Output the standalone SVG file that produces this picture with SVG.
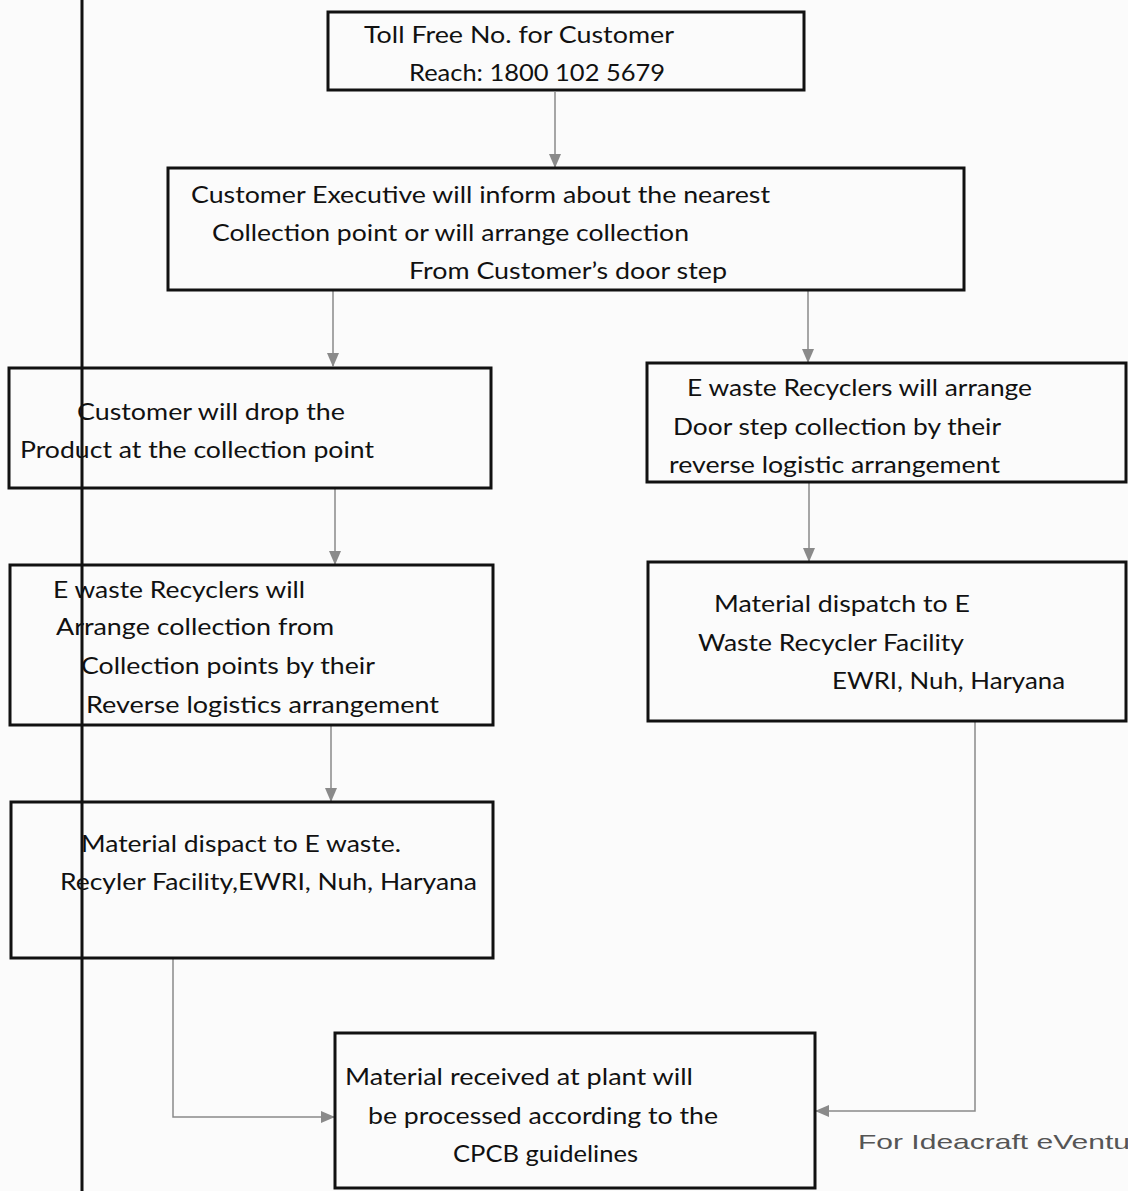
<svg xmlns="http://www.w3.org/2000/svg" width="1128" height="1191" viewBox="0 0 1128 1191">
<style>
.box{fill:none;stroke:#111;stroke-width:3}
.t{font-family:Lato,"Liberation Sans",sans-serif;font-size:24px;fill:#111}
.c{fill:none;stroke:#8a8a8a;stroke-width:1.5}
.note{font-family:"Liberation Sans",Arial,sans-serif;font-size:21px;fill:#555}
</style>
<defs>
<marker id="ah" viewBox="0 0 14 12" refX="13" refY="6" markerWidth="14" markerHeight="12" markerUnits="userSpaceOnUse" orient="auto">
<path d="M0,0 L14,6 L0,12 z" fill="#8a8a8a"/>
</marker>
</defs>
<rect width="1128" height="1191" fill="#fbfbfb"/>
<line x1="82" y1="0" x2="82" y2="1191" stroke="#111" stroke-width="3"/>
<g id="connectors">
<line class="c" x1="555" y1="92" x2="555" y2="167" marker-end="url(#ah)"/>
<line class="c" x1="333" y1="291" x2="333" y2="366" marker-end="url(#ah)"/>
<line class="c" x1="808" y1="291" x2="808" y2="362" marker-end="url(#ah)"/>
<line class="c" x1="335" y1="488" x2="335" y2="564" marker-end="url(#ah)"/>
<line class="c" x1="809" y1="482" x2="809" y2="561" marker-end="url(#ah)"/>
<line class="c" x1="331" y1="725" x2="331" y2="801" marker-end="url(#ah)"/>
<polyline class="c" points="173,958 173,1117 334,1117" marker-end="url(#ah)"/>
<polyline class="c" points="975,721 975,1111 816,1111" marker-end="url(#ah)"/>
</g>
<g id="n1">
<rect class="box" x="328" y="12" width="476" height="78"/>
<text class="t" x="364" y="43" textLength="310" lengthAdjust="spacingAndGlyphs">Toll Free No. for Customer</text>
<text class="t" x="409" y="81" textLength="256" lengthAdjust="spacingAndGlyphs">Reach: 1800 102 5679</text>
</g>
<g id="n2">
<rect class="box" x="168" y="168" width="796" height="122"/>
<text class="t" x="191" y="203" textLength="579" lengthAdjust="spacingAndGlyphs">Customer Executive will inform about the nearest</text>
<text class="t" x="212" y="241" textLength="477" lengthAdjust="spacingAndGlyphs">Collection point or will arrange collection</text>
<text class="t" x="409" y="279" textLength="318" lengthAdjust="spacingAndGlyphs">From Customer’s door step</text>
</g>
<g id="n3">
<rect class="box" x="9" y="368" width="482" height="120"/>
<text class="t" x="77" y="420" textLength="268" lengthAdjust="spacingAndGlyphs">Customer will drop the</text>
<text class="t" x="20" y="458" textLength="354" lengthAdjust="spacingAndGlyphs">Product at the collection point</text>
</g>
<g id="n4">
<rect class="box" x="647" y="363" width="479" height="119"/>
<text class="t" x="687" y="396" textLength="345" lengthAdjust="spacingAndGlyphs">E waste Recyclers will arrange</text>
<text class="t" x="673" y="435" textLength="328" lengthAdjust="spacingAndGlyphs">Door step collection by their</text>
<text class="t" x="669" y="473" textLength="331" lengthAdjust="spacingAndGlyphs">reverse logistic arrangement</text>
</g>
<g id="n5">
<rect class="box" x="10" y="565" width="483" height="160"/>
<text class="t" x="53" y="598" textLength="252" lengthAdjust="spacingAndGlyphs">E waste Recyclers will</text>
<text class="t" x="56" y="635" textLength="278" lengthAdjust="spacingAndGlyphs">Arrange collection from</text>
<text class="t" x="81" y="674" textLength="294" lengthAdjust="spacingAndGlyphs">Collection points by their</text>
<text class="t" x="86" y="713" textLength="353" lengthAdjust="spacingAndGlyphs">Reverse logistics arrangement</text>
</g>
<g id="n6">
<rect class="box" x="648" y="562" width="478" height="159"/>
<text class="t" x="714" y="612" textLength="256" lengthAdjust="spacingAndGlyphs">Material dispatch to E</text>
<text class="t" x="698" y="651" textLength="266" lengthAdjust="spacingAndGlyphs">Waste Recycler Facility</text>
<text class="t" x="832" y="689" textLength="233" lengthAdjust="spacingAndGlyphs">EWRI, Nuh, Haryana</text>
</g>
<g id="n7">
<rect class="box" x="11" y="802" width="482" height="156"/>
<text class="t" x="81" y="852" textLength="320" lengthAdjust="spacingAndGlyphs">Material dispact to E waste.</text>
<text class="t" x="60" y="890" textLength="417" lengthAdjust="spacingAndGlyphs">Recyler Facility,EWRI, Nuh, Haryana</text>
</g>
<g id="n8">
<rect class="box" x="335" y="1033" width="480" height="155"/>
<text class="t" x="345" y="1085" textLength="348" lengthAdjust="spacingAndGlyphs">Material received at plant will</text>
<text class="t" x="368" y="1124" textLength="350" lengthAdjust="spacingAndGlyphs">be processed according to the</text>
<text class="t" x="453" y="1162" textLength="185" lengthAdjust="spacingAndGlyphs">CPCB guidelines</text>
</g>
<text class="note" x="858" y="1149" textLength="272" lengthAdjust="spacingAndGlyphs">For Ideacraft eVentu</text>
</svg>
